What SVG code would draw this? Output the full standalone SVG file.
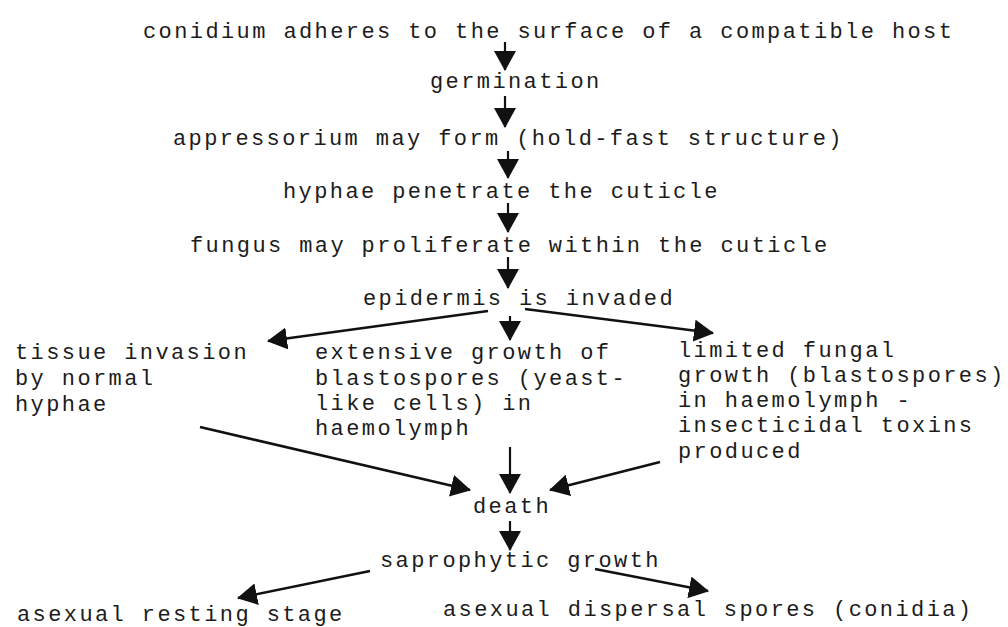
<svg xmlns="http://www.w3.org/2000/svg" width="1008" height="627" viewBox="0 0 1008 627">
<style>
text{font-family:"Liberation Mono","Courier New",monospace;font-size:22px;letter-spacing:2.4px;fill:#1c1c1c}
.c line{stroke:#111;stroke-width:2.6;fill:none;marker-end:url(#ah)}
.c line.v{stroke-width:2.2}
</style>
<defs>
<marker id="ah" viewBox="0 0 20 22" refX="19" refY="11" markerWidth="20" markerHeight="22" markerUnits="userSpaceOnUse" orient="auto">
<path d="M0,0 L20,11 L0,22 z" fill="#111"/>
</marker>
</defs>
<rect width="1008" height="627" fill="#fff"/>
<g id="n1"><text x="143" y="38">conidium adheres to the surface of a compatible host</text></g>
<g id="n2"><text x="430" y="88">germination</text></g>
<g id="n3"><text x="173" y="145">appressorium may form (hold-fast structure)</text></g>
<g id="n4"><text x="283" y="198">hyphae penetrate the cuticle</text></g>
<g id="n5"><text x="190" y="252">fungus may proliferate within the cuticle</text></g>
<g id="n6"><text x="363" y="305">epidermis is invaded</text></g>
<g id="n7"><text x="15" y="359">tissue invasion</text><text x="15" y="385">by normal</text><text x="15" y="411">hyphae</text></g>
<g id="n8"><text x="315" y="359">extensive growth of</text><text x="315" y="385">blastospores (yeast-</text><text x="315" y="410">like cells) in</text><text x="315" y="435">haemolymph</text></g>
<g id="n9"><text x="678" y="357">limited fungal</text><text x="678" y="382">growth (blastospores)</text><text x="678" y="407">in haemolymph -</text><text x="678" y="432">insecticidal toxins</text><text x="678" y="458">produced</text></g>
<g id="n10"><text x="473" y="513">death</text></g>
<g id="n11"><text x="380" y="567">saprophytic growth</text></g>
<g id="n12"><text x="17" y="621">asexual resting stage</text></g>
<g id="n13"><text x="443" y="616">asexual dispersal spores (conidia)</text></g>
<g id="connectors" class="c">
<line class="v" x1="505" y1="42" x2="505" y2="70"/>
<line class="v" x1="505" y1="96" x2="505" y2="127"/>
<line class="v" x1="508" y1="151" x2="508" y2="178"/>
<line class="v" x1="508" y1="203" x2="508" y2="232"/>
<line class="v" x1="508" y1="257" x2="508" y2="288"/>
<line x1="488" y1="311" x2="268" y2="341"/>
<line class="v" x1="510" y1="316" x2="510" y2="340"/>
<line x1="525" y1="309" x2="713" y2="333"/>
<line x1="200" y1="427" x2="470" y2="490"/>
<line class="v" x1="510" y1="447" x2="510" y2="493"/>
<line x1="660" y1="462" x2="550" y2="490"/>
<line class="v" x1="510" y1="521" x2="510" y2="550"/>
<line x1="370" y1="571" x2="238" y2="598"/>
<line x1="595" y1="569" x2="708" y2="591"/>
</g>
</svg>
